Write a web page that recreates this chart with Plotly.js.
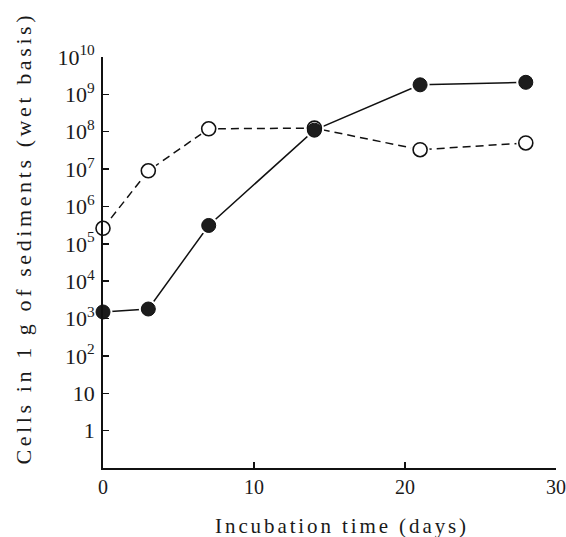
<!DOCTYPE html>
<html>
<head>
<meta charset="utf-8">
<script src="https://cdn.plot.ly/plotly-3.0.1.min.js"></script>
<style>
html, body { margin: 0; padding: 0; background: #fff; }
#chart { width: 566px; height: 537px; }
.annotation[data-index="0"] .annotation-text { letter-spacing: 2.9px; }
.annotation[data-index="1"] .annotation-text { letter-spacing: 3.6px; }
</style>
</head>
<body>
<div id="chart"></div>
<script>
// Incubation time (days)
const days = [0, 3, 7, 14, 21, 28];
// Filled circles (solid line)
const filledCells = [1.5e3, 1.8e3, 3.1e5, 1.1e8, 1.8e9, 2.1e9];
// Open circles (dashed line)
const openCells = [2.6e5, 9e6, 1.2e8, 1.25e8, 3.3e7, 5e7];
// Axis ticks
const xTicks = [0, 10, 20, 30];
const yTickVals = [1, 10, 1e2, 1e3, 1e4, 1e5, 1e6, 1e7, 1e8, 1e9, 1e10];
const yTickText = ["1", "10", "10<sup>2</sup>", "10<sup>3</sup>", "10<sup>4</sup>", "10<sup>5</sup>",
  "10<sup>6</sup>", "10<sup>7</sup>", "10<sup>8</sup>", "10<sup>9</sup>", "10<sup>10</sup>"];

const fam = "'Liberation Serif', 'Times New Roman', serif";
const ink = "#1a1a1a";

const traces = [
  // connecting lines
  {x: days, y: openCells, mode: "lines", type: "scatter",
   line: {color: "#111", width: 1.5, dash: "8px,5px"}, hoverinfo: "skip"},
  {x: days, y: filledCells, mode: "lines", type: "scatter",
   line: {color: "#111", width: 1.5}, hoverinfo: "skip"},
  // white halos so the lines stop short of the markers
  {x: days, y: openCells, mode: "markers", type: "scatter", cliponaxis: true,
   marker: {symbol: "circle", size: 19, color: "#fff", line: {width: 0}}, hoverinfo: "skip"},
  {x: days, y: filledCells, mode: "markers", type: "scatter", cliponaxis: true,
   marker: {symbol: "circle", size: 19, color: "#fff", line: {width: 0}}, hoverinfo: "skip"},
  // markers
  {x: days, y: openCells, mode: "markers", type: "scatter", cliponaxis: false,
   marker: {symbol: "circle", size: 14, color: "#fff", line: {color: "#111", width: 1.6}}},
  {x: days, y: filledCells, mode: "markers", type: "scatter", cliponaxis: false,
   marker: {symbol: "circle", size: 14, color: "#1c1c1c", line: {color: "#111", width: 1}}}
];

const layout = {
  width: 566, height: 537,
  margin: {l: 103, r: 10, t: 57, b: 69},
  paper_bgcolor: "#fff", plot_bgcolor: "#fff",
  showlegend: false,
  font: {family: fam, size: 20, color: ink},
  xaxis: {
    range: [0, 30], tickvals: xTicks, ticks: "inside", ticklen: 6, tickwidth: 1.5, tickcolor: "#111",
    showline: true, linecolor: "#111", linewidth: 1.8, showgrid: false, zeroline: false,
    tickfont: {family: fam, size: 20, color: ink}, ticklabelstandoff: 0
  },
  yaxis: {
    type: "log", range: [-1, 10], tickvals: yTickVals, ticktext: yTickText,
    ticks: "inside", ticklen: 6, tickwidth: 1.5, tickcolor: "#111",
    showline: true, linecolor: "#111", linewidth: 1.8, showgrid: false, zeroline: false,
    tickfont: {family: fam, size: 22, color: ink}, ticklabelstandoff: 2
  },
  annotations: [
    {text: "Incubation time (days)", xref: "paper", yref: "paper",
     x: (342 - 103) / 453, y: -(526 - 468) / 411, xanchor: "center", yanchor: "middle",
     showarrow: false, font: {family: fam, size: 21, color: ink}},
    {text: "Cells in 1 g of sediments (wet basis)", xref: "paper", yref: "paper",
     x: -(103 - 23) / 453, y: (468 - 238) / 411, xanchor: "center", yanchor: "middle",
     textangle: -90, showarrow: false, font: {family: fam, size: 22, color: ink}}
  ]
};

Plotly.newPlot("chart", traces, layout, {displayModeBar: false, staticPlot: true});
</script>
</body>
</html>
